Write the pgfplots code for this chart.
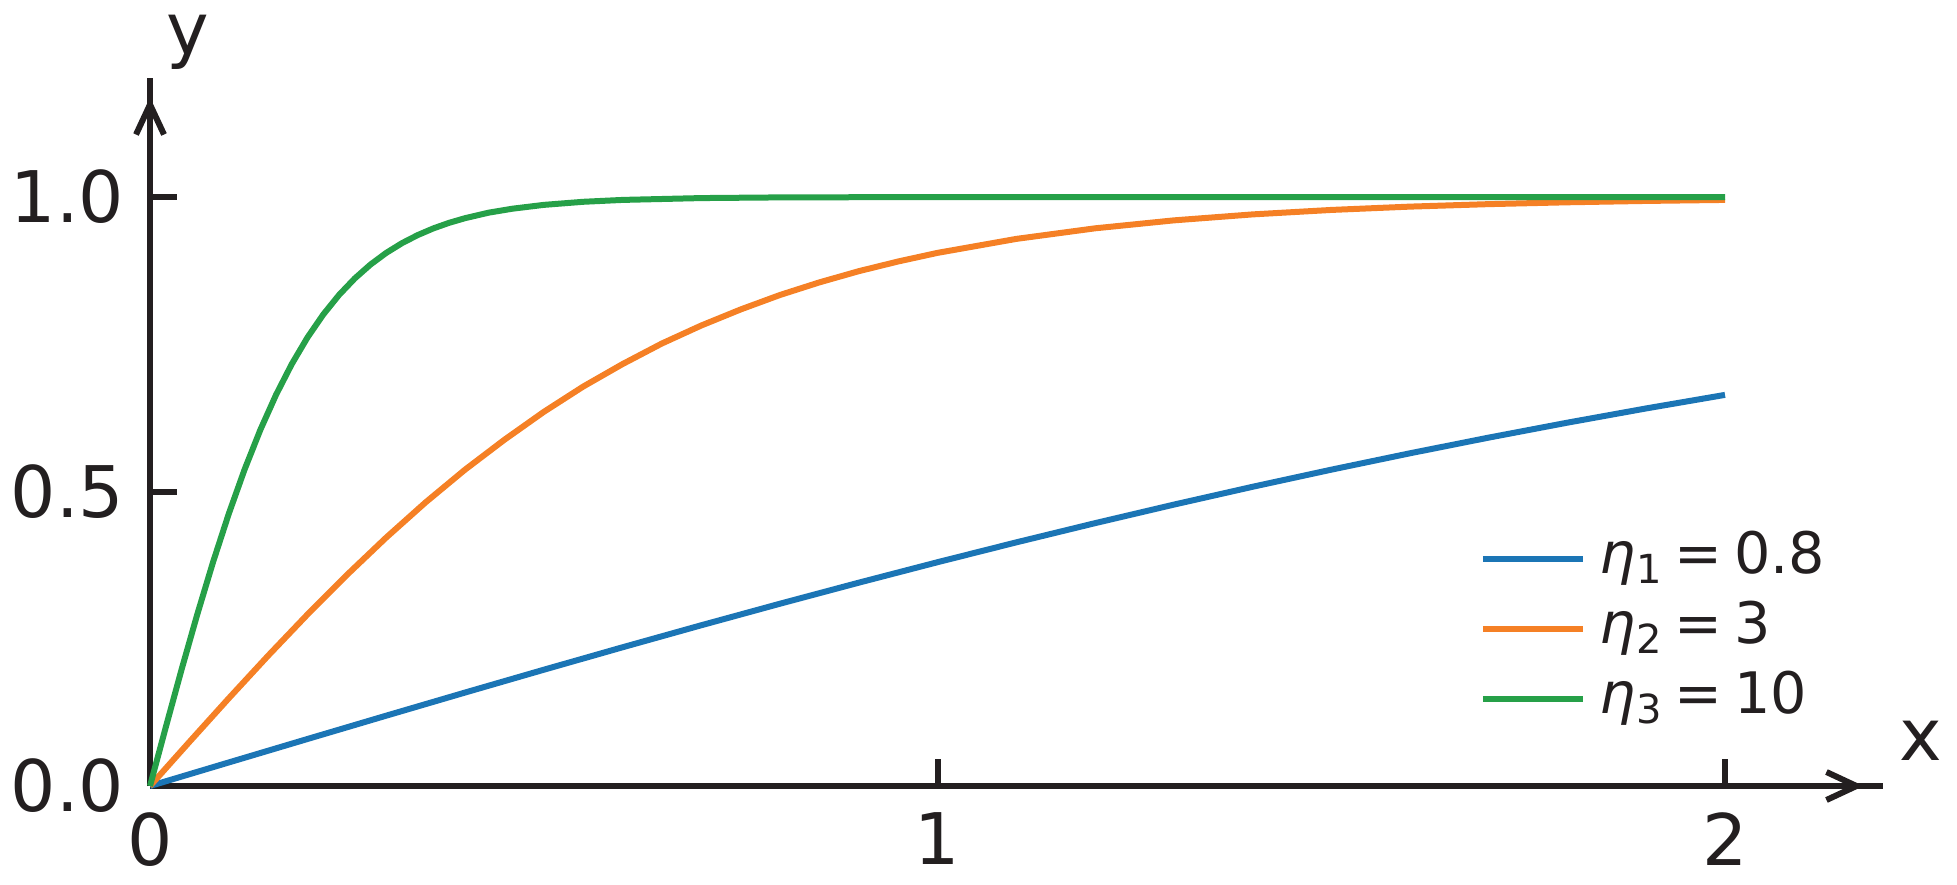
\documentclass[border=0pt]{standalone}
\usepackage{pgfplots}
\pgfplotsset{compat=1.18}
\usepackage{fontspec}
\setmainfont{DejaVu Sans}
\usetikzlibrary{arrows.meta}
\definecolor{cblue}{HTML}{1B75B5}
\definecolor{corange}{HTML}{F58025}
\definecolor{cgreen}{HTML}{26A048}
\definecolor{cink}{HTML}{231F20}
\newcommand{\eq}{\hspace{0.2em}=\hspace{0.2em}}
\begin{document}
\begin{tikzpicture}
\begin{axis}[
  x=196.875pt, y=147.25pt,
  xmin=0, xmax=2.2044, ymin=0, ymax=1.2071,
  axis lines=left,
  clip=false,
  axis line style={line width=1.5pt, cink, -{Straight Barb[length=7.5pt 0,width=7pt 0,sep=0pt]Rectangle[length=5.6pt 0,width=1.5pt 0,sep=0pt]}},
  tick style={line width=1.5pt, cink},
  major tick length=6.75pt,
  tick align=inside,
  xtick={0,1,2}, xticklabels={0,1,2},
  ytick={0,0.5,1}, yticklabels={0.0,0.5,1.0},
  ticklabel style={font=\fontsize{17.8}{21}\selectfont, text=cink},
  xticklabel style={anchor=north, inner sep=0pt, yshift=-6.5pt},
  yticklabel style={anchor=east, inner sep=0pt, xshift=-6.25pt},
  legend style={draw=none, fill=none, at={(axis cs:1.6876,0.2666)}, anchor=west,
    inner sep=0pt, row sep=3pt, column sep=3.5pt, font=\fontsize{14.3}{17}\selectfont, text=cink,
    nodes={inner sep=0pt, text height=11pt, text depth=3.5pt}},
  legend image code/.code={\draw[#1, line width=1.5pt] (0pt,0pt) -- (25pt,0pt);},
  legend cell align=left,
]
\addplot[cblue, line width=1.5pt] coordinates {
(0,0) (0.1,0.03998) (0.2,0.07983) (0.3,0.11943) (0.4,0.15865) (0.5,0.19738)
(0.6,0.23550) (0.7,0.27291) (0.8,0.30950) (0.9,0.34521) (1.0,0.37995)
(1.1,0.41364) (1.2,0.44624) (1.3,0.47770) (1.4,0.50798) (1.5,0.53705)
(1.6,0.56490) (1.7,0.59152) (1.8,0.61691) (1.9,0.64108) (2.0,0.66404)};
\addlegendentry{\textit{η}\textsubscript{1}\eq 0.8}
\addplot[corange, line width=1.5pt] coordinates {
(0,0) (0.05,0.07486) (0.1,0.14889) (0.15,0.22127) (0.2,0.29131) (0.25,0.35835)
(0.3,0.42190) (0.35,0.48162) (0.4,0.53705) (0.45,0.58783) (0.5,0.63515) (0.55,0.67809)
(0.6,0.71630) (0.65,0.75128) (0.7,0.78181) (0.75,0.80906) (0.8,0.83365) (0.85,0.85505)
(0.9,0.87405) (0.95,0.89054) (1.0,0.90515)
(1.1,0.92886) (1.2,0.94681) (1.3,0.96032) (1.4,0.97045) (1.5,0.97803)
(1.6,0.98367) (1.7,0.98789) (1.8,0.99101) (1.9,0.99333) (2.0,0.99505)};
\addlegendentry{\textit{η}\textsubscript{2}\eq 3}
\addplot[cgreen, line width=1.5pt] coordinates {
(0,0) (0.02,0.09967) (0.04,0.19738) (0.06,0.29131) (0.08,0.37995) (0.1,0.46212)
(0.12,0.53705) (0.14,0.60437) (0.16,0.66404) (0.18,0.71630) (0.2,0.76159)
(0.22,0.80050) (0.24,0.83365) (0.26,0.86172) (0.28,0.88535) (0.3,0.90515)
(0.32,0.92167) (0.34,0.93541) (0.36,0.94681) (0.38,0.95624) (0.4,0.96403)
(0.43,0.97340) (0.46,0.98010) (0.5,0.98661) (0.55,0.99186)
(0.6,0.99505) (0.7,0.99818) (0.8,0.99933) (1.0,0.99991) (1.5,1.0) (2.0,1.0)};
\addlegendentry{\textit{η}\textsubscript{3}\eq 10}
\node[anchor=base, text=cink, font=\fontsize{18}{21}\selectfont, inner sep=0pt] at (axis cs:0.0483,1.2411) {y};
\node[anchor=base, text=cink, font=\fontsize{18}{21}\selectfont, inner sep=0pt] at (axis cs:2.249,0.0441) {x};
\path (axis cs:-0.1905,-0.1664) rectangle (axis cs:2.2946,1.3345);
\end{axis}
\end{tikzpicture}
\end{document}
